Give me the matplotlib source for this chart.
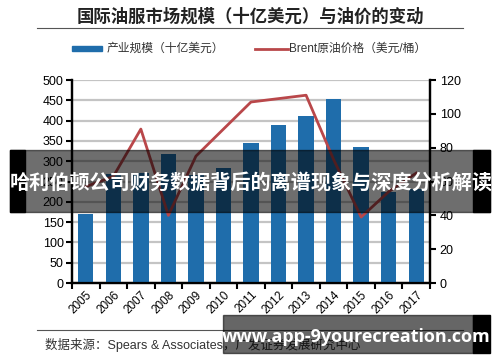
import numpy as np
import matplotlib
matplotlib.use('Agg')
import matplotlib.pyplot as plt
from matplotlib.patches import Rectangle
from matplotlib.lines import Line2D

plt.rcParams['font.family'] = ['Liberation Sans', 'Noto Sans CJK SC', 'DejaVu Sans']

# Data
#--------------------------------------------------------------------
years = ['2005', '2006', '2007', '2008', '2009', '2010', '2011',
         '2012', '2013', '2014', '2015', '2016', '2017']
market_size = [170, 268, 272, 318, 265, 283, 346, 388, 412, 453, 336, 225, 232]
brent_price = [57, 63, 91, 40, 75, 91, 107, 109, 111, 73, 39, 54, 65]

title = '国际油服市场规模（十亿美元）与油价的变动'
bar_label = '产业规模（十亿美元）'
line_label = 'Brent原油价格（美元/桶）'
source = '数据来源：Spears & Associates，广发证券发展研究中心'
banner = '哈利伯顿公司财务数据背后的离谱现象与深度分析解读'
watermark = 'www.app-9yourecreation.com'

bar_color = '#1f6dab'
line_color = '#b9474a'
cjk = ['Noto Sans CJK SC', 'DejaVu Sans']

# Figure
#--------------------------------------------------------------------
fig = plt.figure(figsize=(5, 3.62), dpi=100)
ax = fig.add_axes([0.144, 0.218, 0.716, 0.561])
ax2 = ax.twinx()

x = np.arange(len(years))
ax.bar(x, market_size, width=0.56, color=bar_color, zorder=3)
ax.set_xlim(-0.5, len(years) - 0.5)
ax.set_ylim(0, 500)
ax.set_yticks(np.arange(0, 501, 50))
ax.yaxis.grid(True, color='#c4c4c4', lw=1.6, zorder=0)
ax.set_axisbelow(True)

ax.set_xticks(x)
ax.set_xticklabels(years, rotation=45, ha='right', rotation_mode='anchor', fontsize=8.5)
ax.tick_params(axis='x', length=0, pad=4)
ax.set_xticks(np.arange(-0.5, len(years)), minor=True)
ax.tick_params(axis='x', which='minor', length=4, width=1.5, direction='out')
ax.tick_params(axis='y', labelsize=9, length=4, width=1.5, pad=2)

ax2.plot(x, brent_price, color=line_color, lw=2, zorder=4)
ax2.set_ylim(0, 120)
ax2.set_yticks(np.arange(0, 121, 20))
ax2.tick_params(axis='y', labelsize=9, length=4, width=1.5, pad=3)

for a in (ax, ax2):
    a.spines['top'].set_visible(False)
    for s in ('left', 'right', 'bottom'):
        a.spines[s].set_linewidth(1.6)

# Title, legend, source
#--------------------------------------------------------------------
fig.text(0.5, 0.955, title, ha='center', va='center', fontsize=12.5,
         fontweight='bold', family=cjk, color='#222222')
fig.add_artist(Line2D([0.074, 0.926], [0.922, 0.922], color='#555555', lw=0.8))

fig.add_artist(Rectangle((0.144, 0.858), 0.06, 0.014, color=bar_color))
fig.text(0.213, 0.866, bar_label, ha='left', va='center', fontsize=8.5, family=cjk, color='#333333')
fig.add_artist(Line2D([0.51, 0.576], [0.866, 0.866], color=line_color, lw=2))
fig.text(0.578, 0.866, line_label, ha='left', va='center', fontsize=8.5, color='#333333')

fig.add_artist(Line2D([0.074, 0.926], [0.088, 0.088], color='#555555', lw=0.8))
fig.text(0.09, 0.046, source, ha='left', va='center', fontsize=9, color='#333333')

# Overlays
#--------------------------------------------------------------------
fig.add_artist(Rectangle((0.02, 0.414), 0.96, 0.171, color='black', alpha=0.57, zorder=10))
fig.add_artist(Rectangle((0.02, 0.414), 0.03, 0.171, color='black', zorder=10))
fig.add_artist(Rectangle((0.946, 0.414), 0.034, 0.171, color='black', zorder=10))
fig.text(0.502, 0.497, banner, ha='center', va='center', fontsize=14.5,
         fontweight='bold', family=cjk, color='white', zorder=11)

fig.add_artist(Rectangle((0.446, 0.025), 0.5, 0.105, color='black', alpha=0.6, zorder=10))
fig.add_artist(Rectangle((0.946, 0.025), 0.034, 0.105, color='black', zorder=10))
fig.text(0.712, 0.069, watermark, ha='center', va='center', fontsize=13,
         fontweight='bold', family='Open Sans', color='white', zorder=11)

fig.savefig('out.png', dpi=100)
